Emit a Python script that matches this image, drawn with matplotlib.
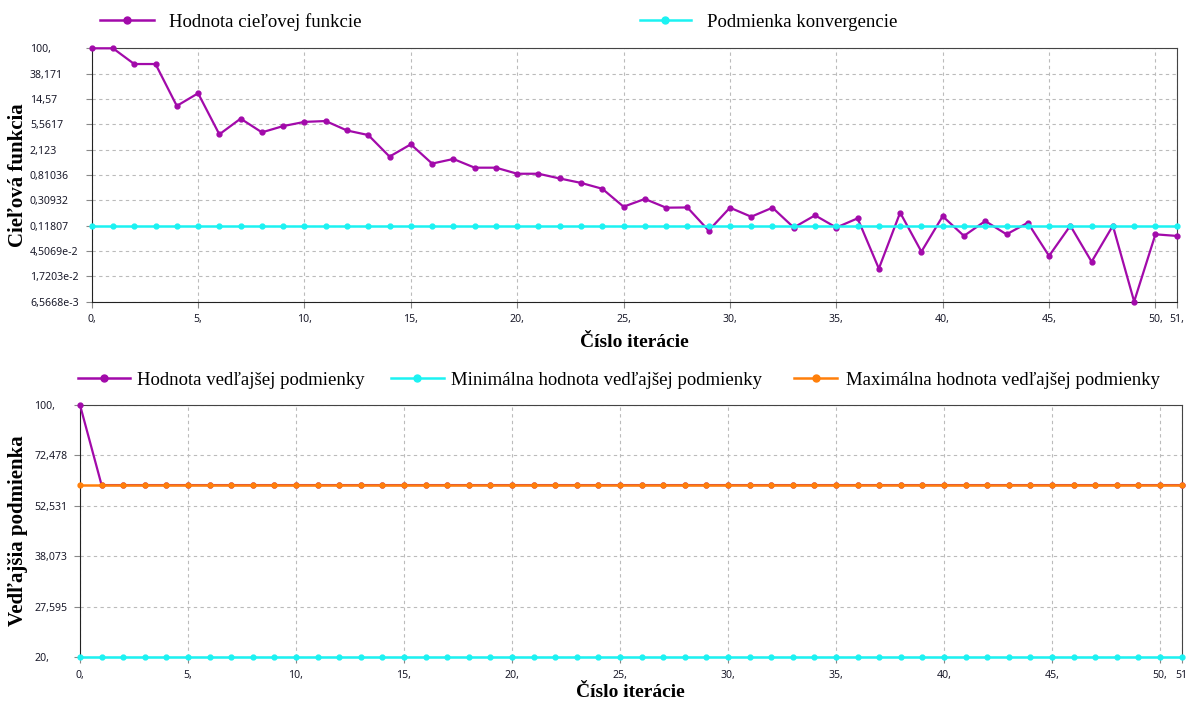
import matplotlib
matplotlib.use("Agg")
import matplotlib.pyplot as plt
from matplotlib.lines import Line2D

# ---------------- data ----------------
iterations = list(range(52))
objective = [100, 100, 55, 55, 11.2, 18.1, 3.8, 6.9, 4.1, 5.2,
             6.1, 6.3, 4.4, 3.7, 1.63, 2.6, 1.25, 1.49, 1.07, 1.07,
             0.85, 0.85, 0.71, 0.60, 0.48, 0.243, 0.326, 0.234, 0.236, 0.098,
             0.234, 0.166, 0.234, 0.11, 0.175, 0.11, 0.156, 0.0231, 0.194, 0.044,
             0.169, 0.080, 0.141, 0.085, 0.132, 0.0374, 0.118, 0.030, 0.118, 0.0066,
             0.085, 0.080]
convergence = [0.11807] * 52
side_value = [100] + [60] * 51
side_min = [20] * 52
side_max = [60] * 52

top_yticks = [100, 38.171, 14.57, 5.5617, 2.123, 0.81036, 0.30932, 0.11807,
              0.045069, 0.017203, 0.0065668]
top_yticklabels = ["100,", "38,171", "14,57", "5,5617", "2,123", "0,81036",
                   "0,30932", "0,11807", "4,5069e-2", "1,7203e-2", "6,5668e-3"]
bot_yticks = [100, 72.478, 52.531, 38.073, 27.595, 20]
bot_yticklabels = ["100,", "72,478", "52,531", "38,073", "27,595", "20,"]
xticks = [0, 5, 10, 15, 20, 25, 30, 35, 40, 45, 50, 51]
top_xticklabels = ["0,", "5,", "10,", "15,", "20,", "25,", "30,", "35,", "40,", "45,", "50,", "51,"]
bot_xticklabels = ["0,", "5,", "10,", "15,", "20,", "25,", "30,", "35,", "40,", "45,", "50,", "51"]

legend_top = ["Hodnota cieľovej funkcie", "Podmienka konvergencie"]
legend_bot = ["Hodnota vedľajšej podmienky", "Minimálna hodnota vedľajšej podmienky",
              "Maximálna hodnota vedľajšej podmienky"]

PURPLE = "#A20AAA"
CYAN = "#1CF2F2"
ORANGE = "#FF7F0A"

W, H = 1186, 704
fig = plt.figure(figsize=(W / 100, H / 100), dpi=100)


def px_axes(left, top, right, bottom):
    return fig.add_axes([left / W, 1 - bottom / H, (right - left) / W, (bottom - top) / H])


tick_font = dict(family=["Noto Sans", "DejaVu Sans"], size=7.6)
serif = ["Liberation Serif", "DejaVu Serif"]


def style(ax, yticks, ylabels, xlabels, ylim, pad_pts):
    ax.set_yscale("log")
    ax.set_xlim(0, 51)
    ax.set_ylim(*ylim)
    ax.set_yticks(yticks)
    ax.set_yticklabels(ylabels, **tick_font)
    ax.yaxis.set_minor_locator(matplotlib.ticker.NullLocator())
    ax.set_xticks(xticks)
    ax.set_xticklabels(xlabels, **tick_font)
    ax.tick_params(axis="y", length=4, color="#888888", pad=pad_pts, labelcolor="#1a1a2a")
    ax.tick_params(axis="x", length=4, color="#888888", pad=5, labelcolor="#1a1a2a")
    for lab in ax.get_yticklabels():
        lab.set_horizontalalignment("left")
    ax.grid(True, color="#BBBBBB", linestyle=(0, (3, 3)), linewidth=0.8)
    ax.set_axisbelow(True)
    for s in ["top", "right"]:
        ax.spines[s].set_color("#444444")
    ax.spines["left"].set_color("#222222")
    ax.spines["bottom"].set_color("#222222")


MS = 3.5

# ---------------- top chart ----------------
ax1 = px_axes(91.7, 48.3, 1176.7, 301.7)
ax1.plot(iterations, objective, color=PURPLE, lw=1.6, marker="o", ms=MS, clip_on=False, zorder=3)
ax1.plot(iterations, convergence, color=CYAN, lw=1.8, marker="o", ms=MS, clip_on=False, zorder=4)
style(ax1, top_yticks, top_yticklabels, top_xticklabels, (0.0065668, 100), 40.5)
ax1.set_xlabel("Číslo iterácie", family=serif, weight="bold", size=14, labelpad=6)
ax1.set_ylabel("Cieľová funkcia", family=serif, weight="bold", size=15)
ax1.yaxis.label.set_va("center")
ax1.yaxis.set_label_coords((18 - 91.7) / (1176.7 - 91.7), 0.5)

# ---------------- bottom chart ----------------
ax2 = px_axes(80, 405, 1181.7, 657.3)
ax2.plot(iterations, side_value, color=PURPLE, lw=1.6, marker="o", ms=MS, clip_on=False, zorder=3)
ax2.plot(iterations, side_min, color=CYAN, lw=1.8, marker="o", ms=MS, clip_on=False, zorder=4)
ax2.plot(iterations, side_max, color=ORANGE, lw=1.8, marker="o", ms=MS, clip_on=False, zorder=5)
style(ax2, bot_yticks, bot_yticklabels, bot_xticklabels, (20, 100), 29)
ax2.set_xlabel("Číslo iterácie", family=serif, weight="bold", size=14, labelpad=2)
ax2.set_ylabel("Vedľajšia podmienka", family=serif, weight="bold", size=15)
ax2.yaxis.label.set_va("center")
ax2.yaxis.set_label_coords((18 - 80) / (1181.7 - 80), 0.5)


# ---------------- legends ----------------
def entry(label, color, x_px, y_px, hl, tp):
    h = Line2D([], [], color=color, lw=1.8, marker="o", ms=5)
    lg = fig.legend([h], [label], loc="center left", bbox_to_anchor=(x_px / W, 1 - y_px / H),
                    frameon=False, borderpad=0, borderaxespad=0, handlelength=hl,
                    handletextpad=tp, prop=dict(family=serif, size=13.5))
    return lg


entry(legend_top[0], PURPLE, 100, 22, 2.9, 0.8)
entry(legend_top[1], CYAN, 640, 22, 2.7, 0.85)
entry(legend_bot[0], PURPLE, 78, 380, 2.75, 0.4)
entry(legend_bot[1], CYAN, 391, 380, 2.8, 0.4)
entry(legend_bot[2], ORANGE, 794, 380, 2.3, 0.5)

fig.savefig("out.png", dpi=100)
